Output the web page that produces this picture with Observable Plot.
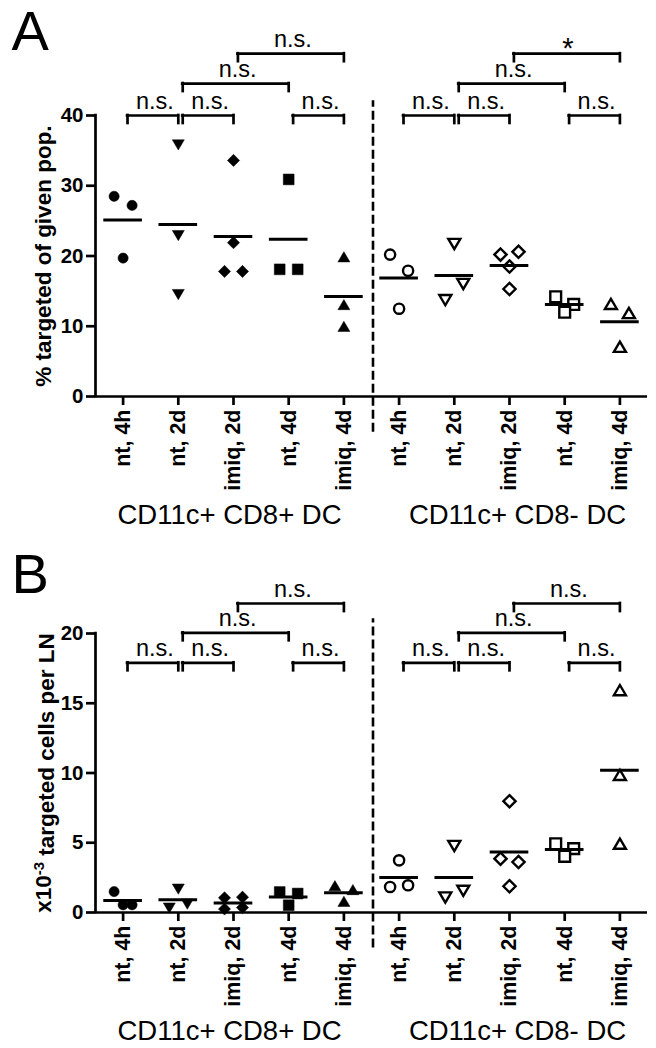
<!DOCTYPE html>
<html>
<head>
<meta charset="utf-8">
<script src="https://cdn.jsdelivr.net/npm/d3@7"></script>
<script src="https://cdn.jsdelivr.net/npm/@observablehq/plot@0.6"></script>
<style>
html, body { margin: 0; padding: 0; background: #fff; }
#chart svg { display: block; }
#chart text { font-family: "Liberation Sans", Arial, sans-serif; }
#chart g[aria-label="y-axis tick label"] { font-weight: bold; font-size: 20.5px; }
#chart g[aria-label="x-axis tick label"] { font-weight: bold; font-size: 21.5px; }
#chart g[aria-label="y-axis tick"] path, #chart g[aria-label="x-axis tick"] path { stroke-width: 2.7px; }
</style>
</head>
<body>
<div id="chart"></div>
<script>
// ---------- data ----------
const categories = ["nt, 4h", "nt, 2d", "imiq, 2d", "nt, 4d", "imiq, 4d"];
const groups = ["CD11c+ CD8+ DC", "CD11c+ CD8- DC"];
const panelLetters = ["A", "B"];
const yLabelA = "% targeted of given pop.";
const yLabelB = ["x10", "-3", " targeted cells per LN"];
const yTicksA = [0, 10, 20, 30, 40];
const yTicksB = [0, 5, 10, 15, 20];

// Panel A: % targeted of given population
const pctCD8pos = [[28.5, 27.2, 19.7], [35.9, 23.0, 14.6], [33.6, 21.9, 17.8, 17.8], [30.9, 18.1, 18.1], [19.8, 13.0, 9.9]];
const pctCD8neg = [[20.2, 17.9, 12.5], [21.8, 16.1, 13.8], [20.2, 20.6, 18.5, 15.3], [14.2, 13.1, 12.0], [13.1, 11.8, 7.0]];
// Panel B: x10^-3 targeted cells per LN
const cellsCD8pos = [[1.5, 0.55, 0.55], [1.72, 0.36, 0.64], [1.05, 1.1, 0.25, 0.35], [1.47, 1.36, 0.52], [1.88, 1.6, 0.76]];
const cellsCD8neg = [[3.74, 1.83, 1.95], [4.81, 1.12, 1.6], [7.98, 3.86, 3.62, 1.88], [4.93, 4.58, 4.03], [15.9, 9.82, 4.89]];

// horizontal scatter slot of each point (-1 left, 0 centre, 1 right)
const slotsA = [
  [[-1, 1, 0], [0, 0, 0], [0, 0, -1, 1], [0, -1, 1], [0, 0, 0]],
  [[-1, 1, 0], [0, 1, -1], [-1, 1, 0, 0], [-1, 1, 0], [-1, 1, 0]]
];
const slotsB = [
  [[-1, 0, 1], [0, -1, 1], [-1, 1, -1, 1], [-1, 1, 0], [-1, 1, 0]],
  [[0, -1, 1], [0, -1, 1], [0, -1, 1, 0], [-1, 1, 0], [0, 0, 0]]
];

// comparisons: [from column, to column, bracket row]
const comparisons = [[0, 1, 1], [1, 2, 1], [3, 4, 1], [1, 3, 2], [2, 4, 3], [5, 6, 1], [6, 7, 1], [8, 9, 1], [6, 8, 2], [7, 9, 3]];
const significanceA = ["n.s.", "n.s.", "n.s.", "n.s.", "n.s.", "n.s.", "n.s.", "n.s.", "n.s.", "*"];
const significanceB = ["n.s.", "n.s.", "n.s.", "n.s.", "n.s.", "n.s.", "n.s.", "n.s.", "n.s.", "n.s."];
const bracketRowsA = [40, 44.55, 48.8];
const bracketRowsB = [17.9, 20.05, 22.15];

// ---------- symbols ----------
const sc = s => Math.sqrt(s / Math.PI) / 5;
const shapes = [
  { draw(c, s) { const r = 5.1 * sc(s); c.moveTo(r, 0); c.arc(0, 0, r, 0, 2 * Math.PI); } },
  { draw(c, s) { const k = sc(s); c.moveTo(-6 * k, -4.5 * k); c.lineTo(6 * k, -4.5 * k); c.lineTo(0, 5.7 * k); c.closePath(); } },
  { draw(c, s) { const k = sc(s); c.moveTo(0, -6.1 * k); c.lineTo(6.1 * k, 0); c.lineTo(0, 6.1 * k); c.lineTo(-6.1 * k, 0); c.closePath(); } },
  { draw(c, s) { const k = sc(s); c.rect(-5.4 * k, -5.4 * k, 10.8 * k, 10.8 * k); } },
  { draw(c, s) { const k = sc(s); c.moveTo(0, -5.7 * k); c.lineTo(6 * k, 4.5 * k); c.lineTo(-6 * k, 4.5 * k); c.closePath(); } }
];

const JIT = 0.163;
const nCat = categories.length;

function panel(cfg) {
  const { letter, values, slots, yTicks, rows, sig, sep, height, marginTop, marginBottom, letterBase } = cfg;
  const yMax = d3.max(yTicks);
  const pts = [];
  values.forEach((grp, g) => grp.forEach((vals, c) => vals.forEach((v, k) => {
    pts.push({ idx: g * nCat + c, shape: c, filled: g === 0, value: v, slot: slots[g][c][k] });
  })));
  const means = d3.rollups(pts, v => d3.mean(v, d => d.value), d => d.idx).map(([idx, mean]) => ({ idx, mean }));
  const plotH = height - marginTop - marginBottom;
  const leg = 8 * yMax / plotH;
  const br = comparisons.map(([a, b, r], i) => ({ from: a, to: b, y: rows[r - 1], label: sig[i] }));
  const legs = br.flatMap(d => [{ x: d.from + 0.08, y: d.y }, { x: d.to, y: d.y }]);
  const boundary = nCat - 0.5;

  const marks = [
    Plot.ruleY([0], { strokeWidth: 2.7 }),
    Plot.ruleX([-0.5], { y1: 0, y2: yMax, strokeWidth: 2.7, strokeLinecap: "square" }),
    Plot.ruleX([boundary], { y1: sep[0], y2: sep[1], strokeWidth: 2.6, strokeDasharray: "9,4", dx: 1.5 }),
    Plot.axisY({ ticks: yTicks, tickSize: 9, tickPadding: 3, tickFormat: d => d }),
    Plot.axisX({ ticks: d3.range(nCat * 2), tickSize: 9, tickPadding: 4, tickRotate: -90, tickFormat: i => categories[i % nCat] })
  ];
  for (let s = 0; s < shapes.length; s++) {
    for (const filled of [true, false]) {
      const sub = pts.filter(d => d.shape === s && d.filled === filled);
      marks.push(Plot.dot(sub, {
        x: d => d.idx + d.slot * JIT, y: "value", symbol: shapes[s], r: 5,
        fill: filled ? "black" : "white", stroke: "black", strokeWidth: filled ? 0.5 : 2.4
      }));
    }
  }
  marks.push(
    Plot.ruleY(means, { x1: d => d.idx - 0.35, x2: d => d.idx + 0.35, y: "mean", strokeWidth: 3 }),
    Plot.ruleY(br, { x1: d => d.from + 0.08, x2: "to", y: "y", strokeWidth: 2.7, strokeLinecap: "square" }),
    Plot.ruleX(legs, { x: "x", y1: "y", y2: d => d.y - leg, strokeWidth: 2.7, strokeLinecap: "square" }),
    Plot.text(br.filter(d => d.label !== "*"), { x: d => (d.from + 0.08 + d.to) / 2, y: "y", text: "label", dx: 2, dy: -7, lineAnchor: "bottom", fontSize: 23.5 }),
    Plot.text(br.filter(d => d.label === "*"), { x: d => (d.from + 0.08 + d.to) / 2, y: "y", text: "label", dx: 1, dy: 4, lineAnchor: "bottom", fontSize: 29 }),
    Plot.text([groups[0]], { x: () => d3.mean(d3.range(nCat)), frameAnchor: "bottom", dy: 127, dx: -4, lineAnchor: "bottom", fontSize: 27.5 }),
    Plot.text([groups[1]], { x: () => nCat + d3.mean(d3.range(nCat)), frameAnchor: "bottom", dy: 127, dx: 8, lineAnchor: "bottom", fontSize: 27.5 }),
    Plot.text([letter], { frameAnchor: "top-left", dx: 11 - 95, dy: letterBase - marginTop, textAnchor: "start", lineAnchor: "bottom", fontSize: 56 }),
    Plot.text([cfg.yLabelText], { frameAnchor: "left", dx: -52, rotate: -90, textAnchor: "middle", lineAnchor: "middle", fontSize: 22.5, fontWeight: "bold" })
  );

  return Plot.plot({
    width: 656, height, marginTop, marginBottom, marginLeft: 95, marginRight: 9,
    x: { domain: [-0.5, nCat * 2 - 0.5], axis: null },
    y: { domain: [0, yMax], axis: null },
    style: { fontFamily: "Liberation Sans, Arial, sans-serif", fontSize: "20px", background: "white", overflow: "visible" },
    marks
  });
}

const svgA = panel({
  letter: panelLetters[0], values: [pctCD8pos, pctCD8neg], slots: slotsA, yTicks: yTicksA,
  rows: bracketRowsA, sig: significanceA, sep: [-5.1, 42.1], height: 528, marginTop: 115, marginBottom: 132,
  letterBase: 49, yLabelText: yLabelA
});
const svgB = panel({
  letter: panelLetters[1], values: [cellsCD8pos, cellsCD8neg], slots: slotsB, yTicks: yTicksB,
  rows: bracketRowsB, sig: significanceB, sep: [-2.55, 21.05], height: 520, marginTop: 105, marginBottom: 136,
  letterBase: 64, yLabelText: yLabelB.join("")
});
const chart = document.getElementById("chart");
chart.append(svgA, svgB);

// superscript in panel B label
const full = yLabelB.join("");
const t = d3.select(svgB).selectAll("text").filter(function () { return this.textContent === full; });
t.text(null);
t.append("tspan").text(yLabelB[0]);
t.append("tspan").attr("dy", "-0.45em").attr("font-size", "15px").text(yLabelB[1]);
t.append("tspan").attr("dy", "0.45em").text(yLabelB[2]);
</script>
</body>
</html>
